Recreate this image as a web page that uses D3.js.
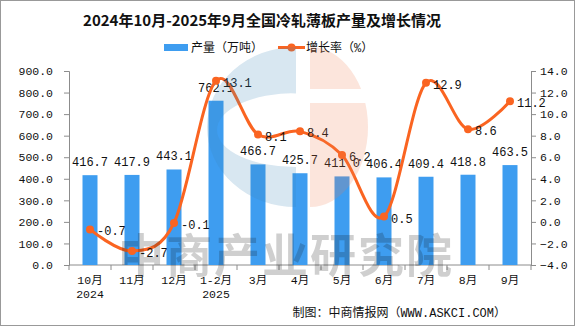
<!DOCTYPE html>
<html lang="zh">
<head>
<meta charset="utf-8">
<title>冷轧薄板产量及增长情况</title>
<script src="https://cdn.jsdelivr.net/npm/d3@7"></script>
<style>
  body { margin: 0; background: #fff; }
  svg text { font-family: "Liberation Mono", "Noto Sans CJK SC", monospace; fill: #111; }
  .axis path, .axis line { stroke: #8c8c8c; }
  .axis text { font-size: 11.5px; fill: #111; }
</style>
</head>
<body>
<script>
var months = ["10月", "11月", "12月", "1-2月", "3月", "4月", "5月", "6月", "7月", "8月", "9月"];
var years = ["2024", "", "", "2025", "", "", "", "", "", "", ""];
var output = [416.7, 417.9, 443.1, 762.1, 466.7, 425.7, 411.0, 406.4, 409.4, 418.8, 463.5];
var growth = [-0.7, -2.7, -0.1, 13.1, 8.1, 8.4, 6.2, 0.5, 12.9, 8.6, 11.2];
var leftTicks = [0, 100, 200, 300, 400, 500, 600, 700, 800, 900];
var rightTicks = [-4, -2, 0, 2, 4, 6, 8, 10, 12, 14];

var w = 575, h = 326;
var plotL = 69, plotR = 531, plotT = 71, plotB = 265;
var barColor = "#3e9df0", lineColor = "#fa6421";

var svg = d3.select("body").append("svg")
    .attr("width", w)
    .attr("height", h);

// frame
svg.append("rect")
    .attr("x", 0.5).attr("y", 0.5)
    .attr("width", w - 1).attr("height", h - 1)
    .attr("fill", "#fff")
    .attr("stroke", "#999");

var x = d3.scaleBand().domain(months).range([plotL, plotR]);
var y = d3.scaleLinear().domain([0, 900]).range([plotB, plotT]);
var y2 = d3.scaleLinear().domain([-4, 14]).range([plotB, plotT]);

// title
svg.append("text")
    .attr("x", 262).attr("y", 26)
    .attr("text-anchor", "middle")
    .style("font-family", "'Noto Sans CJK SC', sans-serif")
    .style("font-weight", "bold")
    .style("font-size", "15px")
    .text("2024年10月-2025年9月全国冷轧薄板产量及增长情况");

// legend
var legend = svg.append("g").style("font-size", "12px");
legend.append("rect")
    .attr("x", 164).attr("y", 44).attr("width", 24).attr("height", 7)
    .attr("fill", barColor);
legend.append("text").attr("x", 191).attr("y", 52).text("产量（万吨）");
legend.append("line")
    .attr("x1", 278).attr("x2", 305).attr("y1", 47.5).attr("y2", 47.5)
    .attr("stroke", lineColor).attr("stroke-width", 3);
legend.append("circle")
    .attr("cx", 291.5).attr("cy", 47.5).attr("r", 4)
    .attr("fill", lineColor);
legend.append("text").attr("x", 306).attr("y", 52).text("增长率（%）");

// axes
svg.append("g")
    .attr("class", "axis")
    .attr("transform", "translate(" + plotL + ",0)")
    .call(d3.axisLeft(y).tickValues(leftTicks).tickFormat(d3.format(".1f"))
        .tickSize(5).tickSizeOuter(5).tickPadding(11));

svg.append("g")
    .attr("class", "axis")
    .attr("transform", "translate(" + plotR + ",0)")
    .call(d3.axisRight(y2).tickValues(rightTicks).tickFormat(d3.format(".1f"))
        .tickSize(5).tickSizeOuter(5).tickPadding(4));

var xAxis = svg.append("g")
    .attr("class", "axis")
    .attr("transform", "translate(0," + plotB + ")");
xAxis.append("line")
    .attr("x1", plotL).attr("x2", plotR)
    .attr("stroke", "#8c8c8c");
xAxis.selectAll(".sep")
    .data(months.concat([""]))
    .enter().append("line")
    .attr("x1", function (d, i) { return plotL + i * x.step(); })
    .attr("x2", function (d, i) { return plotL + i * x.step(); })
    .attr("y1", 0).attr("y2", 5)
    .attr("stroke", "#8c8c8c");
xAxis.selectAll(".m")
    .data(months)
    .enter().append("text")
    .attr("x", function (d) { return x(d) + x.bandwidth() / 2; })
    .attr("y", 19)
    .attr("text-anchor", "middle")
    .style("font-size", "11.5px")
    .text(function (d) { return d; });
xAxis.selectAll(".yr")
    .data(years)
    .enter().append("text")
    .attr("x", function (d, i) { return x(months[i]) + x.bandwidth() / 2; })
    .attr("y", 33)
    .attr("text-anchor", "middle")
    .style("font-size", "11.5px")
    .text(function (d) { return d; });

// bars
var barW = 15;
svg.selectAll(".bar")
    .data(output)
    .enter().append("rect")
    .attr("x", function (d, i) { return x(months[i]) + x.bandwidth() / 2 - barW / 2; })
    .attr("y", function (d) { return y(d); })
    .attr("width", barW)
    .attr("height", function (d) { return plotB - y(d); })
    .attr("fill", barColor);

svg.selectAll(".barLabel")
    .data(output)
    .enter().append("text")
    .attr("x", function (d, i) { return x(months[i]) + x.bandwidth() / 2; })
    .attr("y", function (d) { return y(d) - 9; })
    .attr("text-anchor", "middle")
    .style("font-size", "12px")
    .text(function (d) { return d.toFixed(1); });

// growth line
var pts = growth.map(function (d, i) {
    return [x(months[i]) + x.bandwidth() / 2, y2(d)];
});
svg.append("path")
    .attr("d", d3.line().curve(d3.curveCatmullRom.alpha(0))(pts))
    .attr("fill", "none")
    .attr("stroke", lineColor)
    .attr("stroke-width", 3);

svg.selectAll(".dot")
    .data(pts)
    .enter().append("circle")
    .attr("cx", function (d) { return d[0]; })
    .attr("cy", function (d) { return d[1]; })
    .attr("r", 4)
    .attr("fill", lineColor);

svg.selectAll(".growthLabel")
    .data(growth)
    .enter().append("text")
    .attr("x", function (d, i) { return pts[i][0] + 7; })
    .attr("y", function (d, i) { return pts[i][1] + 6; })
    .style("font-size", "12px")
    .text(function (d) { return d.toFixed(1); });

// faint logo and watermark over the plot
var defs = svg.append("defs");
defs.append("clipPath").attr("id", "logoCut")
    .selectAll("rect")
    .data([[40, 89], [103, 210]])
    .enter().append("rect")
    .attr("x", 300).attr("width", 100)
    .attr("y", function (d) { return d[0]; })
    .attr("height", function (d) { return d[1] - d[0]; });

var mark = svg.append("g").attr("opacity", 0.2).style("pointer-events", "none");
// left: C shape with a flat oval hole
mark.append("path")
    .attr("d", "M296,47 A89,80 0 0 0 296,207 Z M296,93 A79,37 0 0 0 296,167 Z")
    .attr("fill-rule", "evenodd")
    .attr("fill", "#3f86b8");
// right: half oval split by a gap
mark.append("path")
    .attr("clip-path", "url(#logoCut)")
    .attr("d", "M310,47 A58,80 0 0 1 310,207 Z")
    .attr("fill", "#ef7f52");
mark.append("text")
    .attr("x", 286).attr("y", 272)
    .attr("text-anchor", "middle")
    .style("font-family", "'Noto Sans CJK SC', sans-serif")
    .style("font-weight", "bold")
    .style("font-size", "46px")
    .style("letter-spacing", "2px")
    .attr("fill", "#3f86b8")
    .text("中商产业研究院");

// source
svg.append("text")
    .attr("x", 506).attr("y", 317)
    .attr("text-anchor", "end")
    .style("font-size", "12px")
    .text("制图：中商情报网（WWW.ASKCI.COM）");
</script>
</body>
</html>
